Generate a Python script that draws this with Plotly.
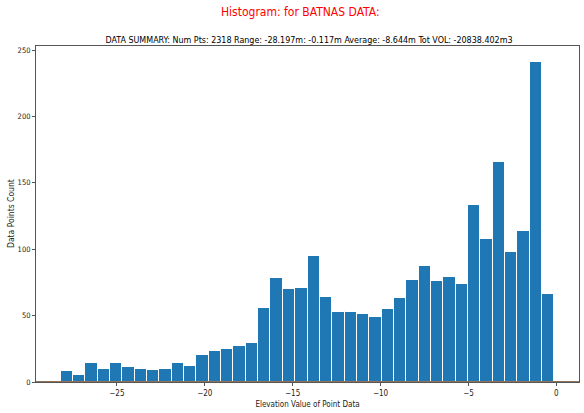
import numpy as np
import plotly.graph_objects as go

# Elevation histogram (40 equal bins between the data min and max)
z_min = -28.197
z_max = -0.117
counts = [8, 5, 14, 10, 14, 11, 10, 9, 10, 14,
          12, 20, 23, 25, 27, 29, 56, 78, 70, 71,
          95, 64, 53, 53, 51, 49, 55, 63, 77, 87,
          76, 79, 74, 133, 108, 166, 98, 114, 241, 66]
x_ticks = [-25, -20, -15, -10, -5, 0]
y_ticks = [0, 50, 100, 150, 200, 250]

n_bins = len(counts)
edges = np.linspace(z_min, z_max, n_bins + 1)
centers = (edges[:-1] + edges[1:]) / 2
bw = edges[1] - edges[0]

span = z_max - z_min
x_range = [z_min - 0.05 * span, z_max + 0.05 * span]
y_range = [0, max(counts) * 1.05]

FONT = "DejaVu Sans Condensed, DejaVu Sans"
PW, PH = 543, 336  # plot area size in px

fig = go.Figure()
fig.add_trace(go.Bar(
    x=centers, y=counts, width=bw,
    marker=dict(color="#1f77b4", line=dict(color="#ffffff", width=1)),
    hoverinfo="x+y",
))

# zero line along the bottom of the axes
fig.add_shape(type="line", xref="paper", yref="y", x0=0, x1=1, y0=0, y1=0,
              line=dict(color="#6e4320", width=1.3))

# red figure heading
fig.add_annotation(text="Histogram: for BATNAS DATA:", xref="paper", yref="paper",
                   x=(300 - 36) / PW, y=1 + (46 - 12) / PH, showarrow=False,
                   xanchor="center", yanchor="middle",
                   font=dict(family=FONT, size=12, color="red"))

# y-axis label
fig.add_annotation(text="Data Points Count", xref="paper", yref="paper",
                   x=(11 - 36) / PW, y=0.5, showarrow=False, textangle=-90,
                   xanchor="center", yanchor="middle",
                   font=dict(family=FONT, size=8.5, color="#222222"))

summary = ("DATA SUMMARY: Num Pts: 2318 Range: -28.197m: -0.117m "
           "Average: -8.644m Tot VOL: -20838.402m3")
fig.update_layout(
    width=584, height=413,
    margin=dict(l=36, r=5, t=46, b=31),
    paper_bgcolor="white", plot_bgcolor="white",
    showlegend=False, bargap=0,
    title=dict(text=summary, x=309 / 584, xanchor="center",
               y=1 - 40 / 413, yanchor="middle", yref="container",
               font=dict(family=FONT, size=8.9, color="black")),
    font=dict(family=FONT, size=8, color="#222222"),
)

fig.update_xaxes(range=x_range, tickvals=x_ticks,
                 ticktext=[("\u2212" + str(-v)) if v < 0 else str(v) for v in x_ticks],
                 showgrid=False, zeroline=False, showline=True, linecolor="#555555",
                 mirror=True, ticks="outside", ticklen=3, tickcolor="#555555",
                 tickfont=dict(size=8),
                 title=dict(text="Elevation Value of Point Data", font=dict(size=8), standoff=4))
fig.update_yaxes(range=y_range, tickvals=y_ticks,
                 showgrid=False, zeroline=False, showline=True, linecolor="#555555",
                 mirror=True, ticks="outside", ticklen=3, tickcolor="#555555",
                 tickfont=dict(size=7.5))

fig.write_html("out.html")
